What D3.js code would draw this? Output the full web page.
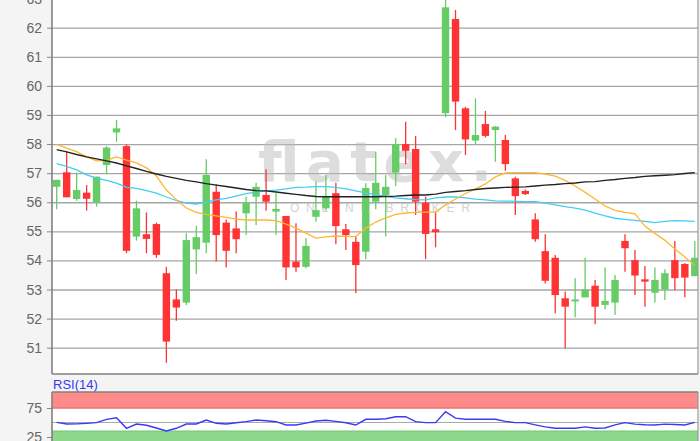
<!DOCTYPE html>
<html>
<head>
<meta charset="utf-8">
<script src="https://cdn.jsdelivr.net/npm/d3@7"></script>
<style>
  body { margin: 0; background: #f4f4f4; }
  svg { display: block; font-family: "Liberation Sans", Arial, sans-serif; }
</style>
</head>
<body>
<svg width="700" height="441"></svg>
<script>
// Candles
const openPx  = [56.53,57.03,56.11,56.33,56.00,57.28,58.40,57.93,54.82,54.90,55.25,53.56,52.66,52.55,54.38,54.61,56.36,55.30,55.10,55.62,56.19,56.25,55.68,55.53,53.96,53.78,55.50,55.79,56.31,55.07,54.64,54.30,56.02,56.25,57.02,58.00,57.83,55.98,55.07,59.06,62.30,59.23,58.12,58.69,58.48,58.14,56.82,56.39,55.41,54.32,54.09,52.70,52.62,52.73,53.13,52.47,52.55,54.67,54.01,53.35,52.89,53.00,54.01,53.88,53.46];
const highPx  = [56.77,57.74,57.02,56.59,56.88,57.93,58.83,58.00,56.05,55.65,55.30,53.78,53.00,54.93,55.19,57.48,56.62,55.41,55.68,56.19,56.67,57.13,56.31,55.53,55.28,54.76,56.71,56.94,56.67,55.25,54.82,56.65,57.74,56.94,58.20,58.77,58.28,56.19,55.68,63.10,62.61,59.28,59.57,59.14,58.62,58.31,56.88,56.44,55.62,54.90,54.19,52.93,53.39,54.09,53.33,53.76,53.50,54.90,54.36,53.81,53.76,53.70,54.67,53.90,54.67];
const lowPx   = [55.76,56.17,56.05,55.71,55.85,56.96,58.08,54.25,54.68,54.25,54.09,50.48,51.93,52.47,53.53,54.25,53.96,53.76,54.25,54.87,55.22,55.71,54.87,53.33,53.61,53.73,55.33,55.71,54.56,54.36,52.87,54.04,55.76,54.82,56.56,57.31,55.56,54.04,54.45,58.92,58.48,57.62,58.00,58.23,57.39,57.08,55.56,56.25,54.64,53.21,52.18,50.98,52.05,52.73,51.81,52.32,52.12,53.61,52.81,52.41,52.55,52.64,52.98,52.73,53.46];
const closePx = [56.77,56.17,56.42,56.12,56.88,57.88,58.54,54.33,55.79,54.74,54.19,51.21,52.38,54.70,54.80,56.94,54.87,54.33,54.73,55.98,56.53,56.02,55.77,53.76,53.76,54.50,55.73,56.19,55.18,54.87,53.84,56.49,56.67,56.53,58.00,57.77,56.02,54.91,54.97,62.70,59.46,58.16,58.31,58.28,58.60,57.31,56.21,56.28,54.73,53.30,52.81,52.41,52.66,53.00,52.41,52.61,53.33,54.42,53.48,53.27,53.33,53.56,53.39,53.41,54.09];

// Moving averages
const maFast = [57.99,57.86,57.74,57.56,57.42,57.44,57.56,57.45,57.35,57.18,56.90,56.42,56.09,55.80,55.65,55.58,55.53,55.48,55.42,55.39,55.39,55.39,55.37,55.25,55.11,54.94,54.77,54.81,54.84,54.83,54.82,55.11,55.32,55.46,55.58,55.63,55.65,55.66,55.66,55.91,56.11,56.30,56.46,56.63,56.87,57.01,57.02,57.02,57.02,56.97,56.90,56.75,56.56,56.34,56.11,55.87,55.72,55.65,55.60,55.18,54.93,54.69,54.39,54.12,53.83];
const maMid  = [57.33,57.23,57.11,56.94,56.83,56.75,56.66,56.51,56.48,56.40,56.31,56.18,56.06,55.97,55.94,56.01,56.08,56.13,56.21,56.30,56.35,56.39,56.42,56.46,56.51,56.52,56.54,56.54,56.51,56.46,56.39,56.32,56.25,56.20,56.15,56.12,56.09,56.08,56.15,56.18,56.18,56.15,56.11,56.08,56.05,56.04,56.03,56.02,56.02,55.97,55.91,55.85,55.80,55.73,55.63,55.53,55.45,55.41,55.38,55.34,55.30,55.34,55.37,55.36,55.34];
const maSlow = [57.81,57.73,57.64,57.56,57.49,57.42,57.35,57.25,57.16,57.06,56.97,56.89,56.82,56.75,56.70,56.64,56.59,56.54,56.49,56.44,56.40,56.39,56.35,56.31,56.27,56.23,56.20,56.19,56.19,56.19,56.19,56.19,56.19,56.20,56.21,56.23,56.25,56.25,56.28,56.34,56.37,56.40,56.44,56.47,56.49,56.51,56.52,56.53,56.56,56.59,56.61,56.64,56.66,56.70,56.71,56.75,56.78,56.82,56.85,56.89,56.91,56.93,56.95,56.99,57.02];

// RSI(14)
const rsi14 = [50.3,47.4,47.6,48.5,49.7,55.5,58.3,40.0,47.4,45.2,40.5,35.3,40.0,47.4,47.4,54.3,48.6,47.4,49.5,51.5,54.3,53.1,51.4,45.7,45.7,49.0,52.5,54.0,52.0,49.5,45.7,55.5,55.5,56.5,60.0,60.0,51.4,49.7,49.7,68.6,57.5,55.5,55.5,55.5,55.5,52.0,49.7,49.7,46.0,42.5,40.0,40.0,40.0,42.5,40.0,40.5,46.0,49.7,47.2,46.0,45.7,47.2,46.5,45.7,50.3];

const priceTicks = d3.range(51, 64);
const rsiTicks = [25, 75];

const svg = d3.select('svg');
const left = 52, right = 698;
const mainTop = -20, mainBottom = 374;
const rsiTop = 392, rsiBottom = 470;

const x = d3.scaleLinear().domain([0, closePx.length - 1]).range([56.7, 694.8]);
const y = d3.scaleLinear().domain([51, 62]).range([347.7, 27.7]);
const yr = d3.scaleLinear().domain([25, 75]).range([437, 408]);

const defs = svg.append('defs');
defs.append('clipPath').attr('id', 'mainClip')
  .append('rect').attr('x', left).attr('y', mainTop).attr('width', right - left).attr('height', mainBottom - mainTop);
defs.append('clipPath').attr('id', 'rsiClip')
  .append('rect').attr('x', left).attr('y', rsiTop).attr('width', right - left).attr('height', rsiBottom - rsiTop);

// Main panel
svg.append('rect')
  .attr('x', left).attr('y', mainTop)
  .attr('width', right - left).attr('height', mainBottom - mainTop)
  .attr('fill', '#fff');

svg.append('g')
  .attr('class', 'grid')
  .attr('transform', `translate(${left},0)`)
  .call(d3.axisLeft(y).tickValues(priceTicks).tickSize(-(right - left)).tickFormat(''))
  .call(g => g.select('.domain').remove())
  .call(g => g.selectAll('line').attr('stroke', '#a6a6a6').attr('stroke-width', 1.3));

const main = svg.append('g').attr('clip-path', 'url(#mainClip)');

// watermark
main.append('text')
  .attr('x', 258).attr('y', 181)
  .attr('textLength', 234).attr('lengthAdjust', 'spacing')
  .attr('font-size', 56).attr('font-weight', 'bold')
  .attr('font-family', '"DejaVu Sans", sans-serif')
  .attr('fill', '#bdbdbd').attr('opacity', 0.5)
  .text('flatex.');
main.append('text')
  .attr('x', 290).attr('y', 212)
  .attr('textLength', 180).attr('lengthAdjust', 'spacing')
  .attr('font-size', 12)
  .attr('fill', '#c4c4c4').attr('opacity', 0.75)
  .text('ONLINE BROKER');

const idx = d3.range(closePx.length);
const up = i => closePx[i] >= openPx[i];
const colour = i => up(i) ? '#66cc66' : '#ff3333';

const candles = main.append('g').selectAll('g').data(idx).enter().append('g');

candles.append('line')
  .attr('x1', i => x(i)).attr('x2', i => x(i))
  .attr('y1', i => y(highPx[i])).attr('y2', i => y(lowPx[i]))
  .attr('stroke', colour).attr('stroke-width', 1.3);

candles.append('rect')
  .attr('x', i => x(i) - 3.7)
  .attr('width', 7.4)
  .attr('y', i => y(Math.max(openPx[i], closePx[i])))
  .attr('height', i => Math.max(2, Math.abs(y(openPx[i]) - y(closePx[i]))))
  .attr('fill', colour);

const maLine = arr => d3.line().x((d, i) => x(i)).y(d => y(d))(arr);

main.append('path').attr('d', maLine(maMid))
  .attr('fill', 'none').attr('stroke', '#44ccf4').attr('stroke-width', 1.3);
main.append('path').attr('d', maLine(maFast))
  .attr('fill', 'none').attr('stroke', '#ffb631').attr('stroke-width', 1.3);
main.append('path').attr('d', maLine(maSlow))
  .attr('fill', 'none').attr('stroke', '#222').attr('stroke-width', 1.4);

// axis + frame
svg.append('g')
  .attr('transform', `translate(${left},0)`)
  .call(d3.axisLeft(y).tickValues(priceTicks).tickSize(5).tickPadding(5).tickFormat(d3.format('d')))
  .call(g => g.select('.domain').remove())
  .call(g => g.selectAll('line').attr('stroke', '#888'))
  .call(g => g.selectAll('text').attr('font-size', 14).attr('fill', '#666').attr('font-family', '"Liberation Sans", Arial, sans-serif'));

svg.append('line').attr('x1', left).attr('x2', left).attr('y1', mainTop).attr('y2', mainBottom)
  .attr('stroke', '#808080').attr('stroke-width', 1.6);
svg.append('line').attr('x1', left).attr('x2', right).attr('y1', mainBottom).attr('y2', mainBottom)
  .attr('stroke', '#808080').attr('stroke-width', 1.6);
svg.append('line').attr('x1', right).attr('x2', right).attr('y1', mainTop).attr('y2', mainBottom)
  .attr('stroke', '#999').attr('stroke-width', 1.2);

// RSI panel
svg.append('text')
  .attr('x', 53).attr('y', 389)
  .attr('font-size', 13).attr('fill', '#3838f0')
  .text('RSI(14)');

svg.append('rect')
  .attr('x', left).attr('y', rsiTop)
  .attr('width', right - left).attr('height', rsiBottom - rsiTop)
  .attr('fill', '#fff');

const rsiG = svg.append('g').attr('clip-path', 'url(#rsiClip)');

rsiG.append('rect')
  .attr('x', left).attr('y', rsiTop)
  .attr('width', right - left).attr('height', yr(75) - rsiTop)
  .attr('fill', '#ff8a8a');
rsiG.append('line').attr('x1', left).attr('x2', right).attr('y1', yr(75)).attr('y2', yr(75))
  .attr('stroke', '#e87474').attr('stroke-width', 1.3);

rsiG.append('rect')
  .attr('x', left).attr('y', yr(35))
  .attr('width', right - left).attr('height', rsiBottom - yr(35))
  .attr('fill', '#8ed88e');
rsiG.append('line').attr('x1', left).attr('x2', right).attr('y1', yr(35)).attr('y2', yr(35))
  .attr('stroke', '#74c874').attr('stroke-width', 1.3);

rsiG.append('line').attr('x1', left).attr('x2', right).attr('y1', yr(50)).attr('y2', yr(50))
  .attr('stroke', '#aaa').attr('stroke-width', 1.2);

rsiG.append('path')
  .attr('d', d3.line().x((d, i) => x(i)).y(d => yr(d))(rsi14))
  .attr('fill', 'none').attr('stroke', '#3a3af5').attr('stroke-width', 1.4);

svg.append('g')
  .attr('transform', `translate(${left},0)`)
  .call(d3.axisLeft(yr).tickValues(rsiTicks).tickSize(5).tickPadding(5).tickFormat(d3.format('d')))
  .call(g => g.select('.domain').remove())
  .call(g => g.selectAll('line').attr('stroke', '#888'))
  .call(g => g.selectAll('text').attr('font-size', 14).attr('fill', '#666').attr('font-family', '"Liberation Sans", Arial, sans-serif'));

svg.append('line').attr('x1', left).attr('x2', right).attr('y1', rsiTop).attr('y2', rsiTop)
  .attr('stroke', '#808080').attr('stroke-width', 1.6);
svg.append('line').attr('x1', left).attr('x2', left).attr('y1', rsiTop).attr('y2', rsiBottom)
  .attr('stroke', '#808080').attr('stroke-width', 1.6);
svg.append('line').attr('x1', right).attr('x2', right).attr('y1', rsiTop).attr('y2', rsiBottom)
  .attr('stroke', '#999').attr('stroke-width', 1.2);
</script>
</body>
</html>
